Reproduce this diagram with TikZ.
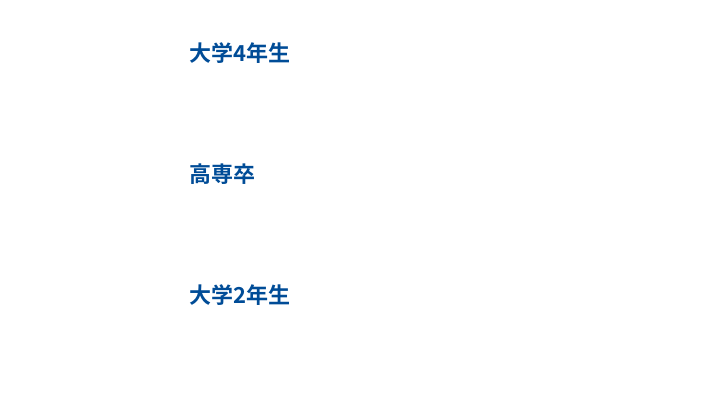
\documentclass[tikz,border=0pt]{standalone}
\usepackage{fontspec}
\newfontfamily\cjk[BoldFont={Noto Sans CJK JP Bold}]{Noto Sans CJK JP}
\definecolor{gradeblue}{RGB}{0,76,151}
\begin{document}
\begin{tikzpicture}[x=0.75pt,y=0.75pt,yscale=-1,xscale=1]
\tikzset{grade/.style={anchor=west,inner sep=0pt,text=gradeblue,font=\cjk\bfseries\fontsize{16.5}{18}\selectfont}}
\useasboundingbox (0,0) rectangle (723,417);
% Text Node
\node [grade] (univ4) at (189,53) {大学4年生};
% Text Node
\node [grade] (kosen) at (189,174) {高専卒};
% Text Node
\node [grade] (univ2) at (189,295) {大学2年生};
\end{tikzpicture}
\end{document}
